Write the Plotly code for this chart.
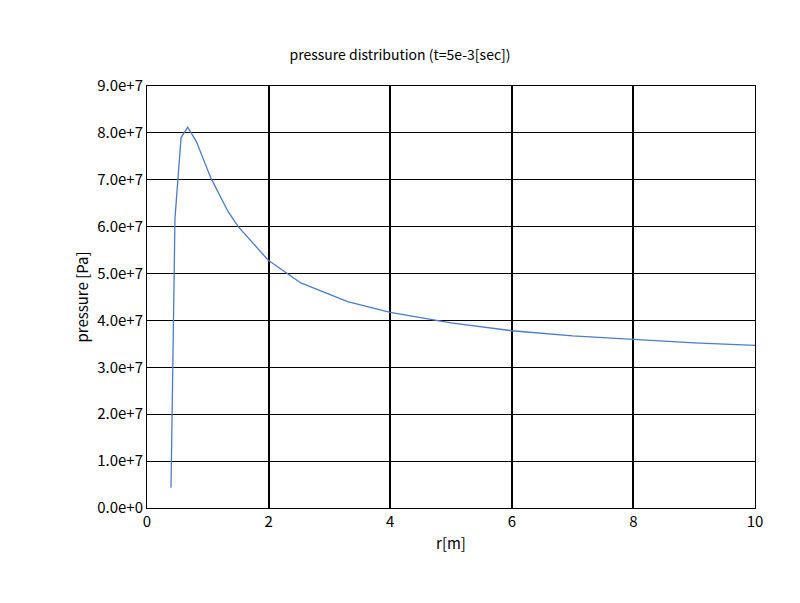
import plotly.graph_objects as go

r = [0.395, 0.46, 0.56, 0.67, 0.81, 1.05, 1.33, 1.5, 1.99, 2.53, 3.3, 4.0, 5.0, 6.0, 7.0, 8.0, 9.0, 10.0]
p = [0.43e7, 6.18e7, 7.9e7, 8.12e7, 7.82e7, 7.04e7, 6.33e7, 6.0e7, 5.29e7, 4.8e7, 4.4e7, 4.17e7, 3.95e7, 3.78e7, 3.67e7, 3.6e7, 3.52e7, 3.47e7]
yticks = [i * 1e7 for i in range(10)]
ylabels = ["%.1fe+7" % i if i else "0.0e+0" for i in range(10)]

fig = go.Figure(go.Scatter(x=r, y=p, mode="lines", line=dict(color="#4a7bd0", width=1.3)))
font = dict(family="Noto Sans CJK JP, DejaVu Sans", size=15, color="black")
fig.update_layout(
    width=800, height=603, plot_bgcolor="white", paper_bgcolor="white",
    margin=dict(l=139, r=53, t=78, b=103), showlegend=False, font=font,
    title=dict(text="pressure distribution (t=5e-3[sec])", x=0.49, xanchor="center", y=0.93, font=dict(size=14)),
)
fig.update_xaxes(range=[0, 10], dtick=2, showgrid=True, gridcolor="black", gridwidth=1.5,
                 showline=True, linecolor="black", mirror=True, zeroline=False, automargin=False,
                 title=dict(text="r[m]", standoff=8, font=dict(size=15)), ticks="", ticklen=0)
fig.update_yaxes(range=[0, 9e7], tickvals=yticks, ticktext=ylabels, showgrid=True, gridcolor="black",
                 gridwidth=1.2, showline=True, linecolor="black", mirror=True, zeroline=False, automargin=False,
                 title=dict(text="pressure [Pa]", standoff=4, font=dict(size=15)))
fig.write_html("out.html")
